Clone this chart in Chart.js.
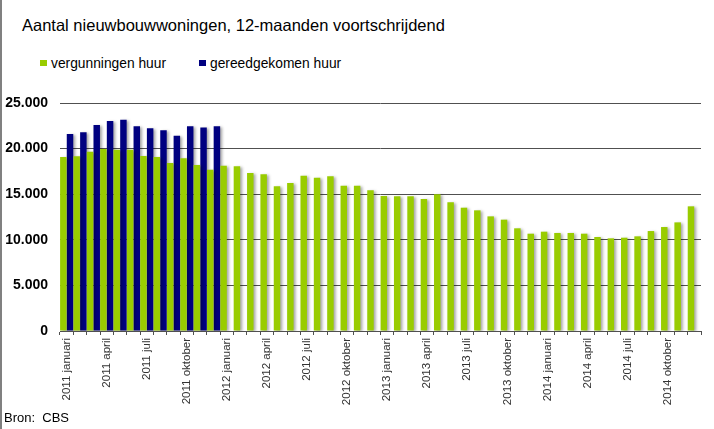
<!DOCTYPE html>
<html>
<head>
<meta charset="utf-8">
<script src="https://cdn.jsdelivr.net/npm/chart.js@4.4.1/dist/chart.umd.min.js"></script>
<style>
  html, body { margin: 0; padding: 0; background: #fff; }
  #wrap { position: relative; width: 714px; height: 429px; overflow: hidden;
          font-family: "Liberation Sans", Arial, sans-serif; color: #000; }
  #edge { position: absolute; left: 0; top: 0; width: 2px; height: 429px; background: #808080; }
  #title { position: absolute; left: 22px; top: 17px; font-size: 16.5px; line-height: 16px; white-space: nowrap; }
  .item { position: absolute; top: 57px; font-size: 13.8px; line-height: 13.5px; white-space: nowrap; }
  .swatch { position: absolute; width: 7px; height: 6px; }
  #source { position: absolute; left: 4px; top: 411px; font-size: 13px; line-height: 13px; white-space: nowrap; }
  canvas { position: absolute; left: 0; top: 0; }
</style>
</head>
<body>
<div id="wrap">
  <div id="edge"></div>
  <div id="title">Aantal nieuwbouwwoningen, 12-maanden voortschrijdend</div>
  <div id="legend"></div>
  <canvas id="chart" width="714" height="429"></canvas>
  <div id="source">Bron:&nbsp; CBS</div>
</div>
<script>
const years = [2011, 2012, 2013, 2014];
const monthNames = ['januari', 'februari', 'maart', 'april', 'mei', 'juni',
  'juli', 'augustus', 'september', 'oktober', 'november', 'december'];

// vergunningen huur (12-maanden voortschrijdend)
const vergunningen = [
  19080, 19150, 19660, 19960, 19880, 19880, 19190, 19080, 18420, 18930, 18200, 17690,
  18130, 18060, 17320, 17180, 15860, 16230, 17030, 16810, 16960, 15940, 15940, 15420,
  14800, 14770, 14770, 14470, 14990, 14110, 13520, 13230, 12570, 12210, 11260, 10670,
  10890, 10750, 10750, 10670, 10310, 10160, 10230, 10380, 10960, 11400, 11910, 13670,
];

// gereedgekomen huur, only known for 2011
const gereedgekomen = [
  21600, 21790, 22590, 23030, 23170, 22440, 22220, 22000, 21420, 22440, 22300, 22440,
];

const yTicks = [0, 5000, 10000, 15000, 20000, 25000];

const seriesNames = ['vergunningen huur', 'gereedgekomen huur'];
const seriesColors = ['#99cc00', '#000080'];

const labels = [];
years.forEach((y) => monthNames.forEach((m) => labels.push(y + ' ' + m)));

function fmt(v) {
  return String(v).replace(/\B(?=(\d{3})+(?!\d))/g, '.');
}

// legend in the old excel style
const legendX = [40, 199];
const legend = document.getElementById('legend');
legend.innerHTML = seriesNames.map((name, i) =>
  '<div class="swatch" style="left:' + legendX[i] + 'px;top:60px;background:' + seriesColors[i] + '"></div>' +
  '<div class="item" style="left:' + (legendX[i] + 11) + 'px">' + name + '</div>'
).join('');

const barShadow = {
  id: 'barShadow',
  beforeDatasetsDraw(chart) {
    const c = chart.ctx;
    c.save();
    c.shadowColor = 'rgba(0,0,0,0.35)';
    c.shadowBlur = 3;
    c.shadowOffsetX = 2;
    c.shadowOffsetY = 1;
  },
  afterDatasetsDraw(chart) {
    chart.ctx.restore();
  },
};

const gridColor = '#505050';

new Chart(document.getElementById('chart'), {
  type: 'bar',
  data: {
    labels,
    datasets: [
      {
        label: seriesNames[0],
        data: vergunningen,
        backgroundColor: seriesColors[0],
        categoryPercentage: 1,
        barPercentage: 0.97,
      },
      {
        label: seriesNames[1],
        data: labels.map((_, i) => (i < gereedgekomen.length ? gereedgekomen[i] : null)),
        backgroundColor: seriesColors[1],
        categoryPercentage: 1,
        barPercentage: 0.97,
      },
    ],
  },
  options: {
    responsive: false,
    animation: false,
    layout: { padding: { left: 0, top: 103, right: 13, bottom: 0 } },
    plugins: {
      legend: { display: false },
      tooltip: { enabled: false },
    },
    scales: {
      x: {
        offset: true,
        grid: { display: true, drawOnChartArea: false, drawTicks: true, tickLength: 4, color: gridColor, offset: true },
        border: { display: true, color: gridColor, width: 1 },
        ticks: {
          autoSkip: false,
          minRotation: 90,
          maxRotation: 90,
          padding: 3,
          color: '#333',
          font: { family: '"Liberation Sans", Arial, sans-serif', size: 11.5 },
          callback: (v, i) => (i % 3 === 0 ? labels[i] : ''),
        },
        afterFit: (scale) => { scale.height = 98; },
      },
      y: {
        min: 0,
        max: 25000,
        afterBuildTicks: (scale) => { scale.ticks = yTicks.map((v) => ({ value: v })); },
        grid: { color: gridColor, drawTicks: false },
        border: { display: false },
        ticks: {
          padding: 12,
          color: '#000',
          font: { family: '"Liberation Sans", Arial, sans-serif', size: 14, weight: 'bold' },
          callback: (v) => fmt(v),
        },
        afterFit: (scale) => { scale.width = 60; },
      },
    },
  },
  plugins: [barShadow],
});
</script>
</body>
</html>
